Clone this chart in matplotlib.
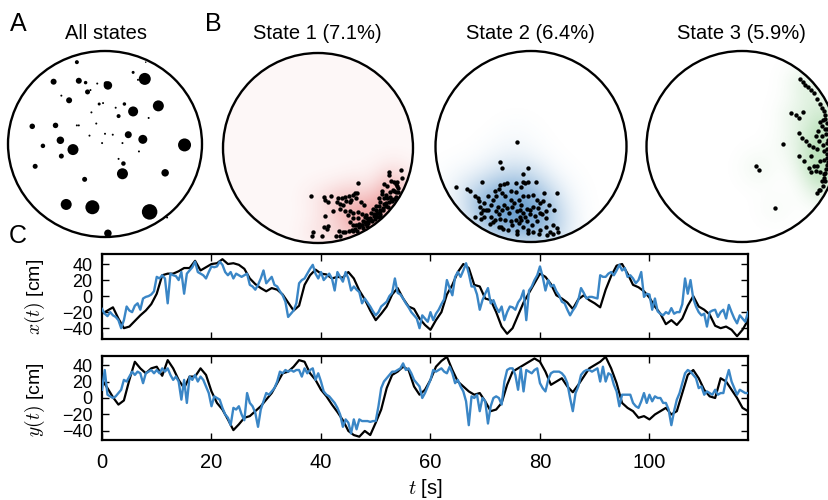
import numpy as np
import matplotlib
matplotlib.use("Agg")
import matplotlib.pyplot as plt
from matplotlib.patches import Circle
from matplotlib.colors import to_rgb

plt.rcParams['font.family'] = ['Liberation Sans', 'DejaVu Sans']
plt.rcParams['mathtext.fontset'] = 'cm'

# ---------------- data ----------------
# Panel A: place-field centres (arena units, radius 1) and field sizes (px)
all_x = [-0.29, 0.42, -0.53, -0.27, -0.20, -0.08, 0.03, 0.01, 0.29, 0.41, 0.34, -0.18, -0.15,
         -0.45, -0.37, -0.06, -0.02, 0.20, 0.11, 0.29, 0.55, -0.14, 0.14, 0.45, -0.75, -0.51,
         -0.29, -0.27, -0.09, -0.16, 0.00, 0.08, 0.24, -0.46, -0.64, -0.33, 0.39, -0.03, 0.18,
         0.82, 0.35, -0.45, 0.14, 0.19, -0.72, 0.18, 0.62, -0.21, -0.40, -0.13, 0.46, 0.64, 0.03]
all_y = [0.88, 0.88, 0.67, 0.68, 0.66, 0.65, 0.63, 0.65, 0.77, 0.70, 0.69, 0.56, 0.58,
         0.52, 0.47, 0.43, 0.44, 0.43, 0.39, 0.35, 0.41, 0.34, 0.30, 0.28, 0.19, 0.20,
         0.20, 0.20, 0.22, 0.09, 0.11, 0.10, 0.10, 0.04, -0.02, -0.06, 0.05, 0.01, 0.01,
         -0.01, -0.08, -0.13, -0.16, -0.21, -0.24, -0.32, -0.31, -0.38, -0.65, -0.68, -0.73, -0.79, -0.96]
all_size = [4, 1.5, 6, 6, 3.5, 2, 8.5, 4.5, 3, 12, 2, 5, 2,
            2, 6, 3, 2, 3.5, 2, 10, 11, 2, 4, 2, 5.5, 5.5,
            2, 2, 2, 2, 2, 2, 7, 7.5, 4.5, 11, 9, 2, 2,
            13, 2, 5, 2, 4.5, 5, 11, 7.5, 5, 11, 14, 15.5, 2, 7.5]

state1 = [(0.75, -0.25), (0.75, -0.28), (0.89, -0.24), (0.77, -0.35), (0.69, -0.38), (0.73, -0.40),
          (0.80, -0.36), (0.84, -0.39), (0.86, -0.37), (0.87, -0.42), (0.93, -0.33), (0.42, -0.37),
          (-0.07, -0.51), (0.06, -0.52), (0.14, -0.51), (0.21, -0.53), (0.25, -0.53), (0.28, -0.52),
          (0.33, -0.51), (0.37, -0.49), (0.39, -0.47), (0.41, -0.47), (0.07, -0.55), (0.11, -0.57),
          (0.20, -0.57), (0.23, -0.59), (0.26, -0.60), (0.30, -0.56), (0.34, -0.57), (0.35, -0.55),
          (0.40, -0.53), (0.45, -0.57), (0.48, -0.60), (0.67, -0.45), (0.67, -0.48), (0.72, -0.49),
          (0.76, -0.47), (0.80, -0.45), (0.83, -0.47), (0.86, -0.49), (0.89, -0.45), (0.91, -0.50),
          (0.64, -0.53), (0.69, -0.53), (0.74, -0.53), (0.78, -0.53), (0.81, -0.57), (0.85, -0.57),
          (0.88, -0.55), (0.65, -0.57), (0.61, -0.61), (0.65, -0.62), (0.71, -0.60), (0.74, -0.60),
          (0.78, -0.60), (0.83, -0.60), (0.58, -0.64), (0.62, -0.66), (0.67, -0.67), (0.72, -0.66),
          (0.76, -0.65), (0.79, -0.66), (0.56, -0.68), (0.60, -0.71), (0.65, -0.71), (0.69, -0.70),
          (0.73, -0.69), (0.51, -0.70), (0.16, -0.66), (0.23, -0.64), (0.28, -0.66), (0.34, -0.66),
          (0.37, -0.68), (0.42, -0.67), (0.46, -0.69), (0.49, -0.73), (0.07, -0.72), (0.32, -0.71),
          (0.37, -0.74), (0.42, -0.74), (0.53, -0.75), (0.56, -0.76), (0.61, -0.75), (0.65, -0.76),
          (0.69, -0.74), (0.48, -0.78), (0.51, -0.80), (0.55, -0.81), (0.59, -0.80), (0.34, -0.78),
          (0.37, -0.81), (0.41, -0.83), (0.44, -0.82), (0.48, -0.84), (0.06, -0.83), (0.11, -0.82),
          (0.09, -0.85), (-0.05, -0.88), (0.23, -0.90), (0.27, -0.92), (0.34, -0.92), (0.37, -0.91),
          (0.41, -0.89), (0.46, -0.88), (0.49, -0.85), (0.53, -0.85), (0.56, -0.83), (0.60, -0.81),
          (0.64, -0.80), (0.67, -0.77), (0.71, -0.78), (0.30, -0.93), (0.44, -0.93), (0.39, -0.93),
          (0.20, -0.97), (0.25, -0.98), (-0.07, -0.97), (0.04, -0.97), (0.51, -0.90), (0.55, -0.88)]

state2 = [(-0.15, 0.05), (-0.32, -0.16), (-0.30, -0.22), (-0.03, -0.23), (-0.08, -0.29), (-0.51, -0.37),
          (-0.80, -0.43), (-0.67, -0.45), (-0.64, -0.47), (-0.59, -0.52), (-0.55, -0.54), (-0.54, -0.57),
          (-0.53, -0.63), (-0.50, -0.66), (-0.52, -0.70), (-0.49, -0.74), (-0.61, -0.77), (-0.55, -0.79),
          (-0.42, -0.74), (-0.45, -0.66), (-0.42, -0.61), (-0.40, -0.56), (-0.37, -0.52), (-0.38, -0.47),
          (-0.33, -0.45), (-0.32, -0.40), (-0.28, -0.39), (-0.25, -0.38), (-0.30, -0.49), (-0.27, -0.52),
          (-0.21, -0.47), (-0.16, -0.48), (-0.10, -0.42), (-0.06, -0.38), (-0.08, -0.37), (-0.03, -0.37),
          (0.05, -0.37), (0.14, -0.49), (0.27, -0.49), (-0.21, -0.56), (-0.18, -0.59), (-0.13, -0.56),
          (-0.10, -0.61), (-0.08, -0.52), (-0.03, -0.52), (0.02, -0.51), (0.06, -0.56), (0.09, -0.59),
          (0.13, -0.57), (0.07, -0.64), (0.02, -0.63), (-0.01, -0.66), (-0.04, -0.65), (-0.08, -0.70),
          (-0.11, -0.66), (-0.15, -0.68), (-0.20, -0.63), (-0.25, -0.64), (-0.30, -0.66), (-0.33, -0.71),
          (-0.37, -0.68), (-0.38, -0.77), (-0.32, -0.76), (-0.27, -0.77), (-0.21, -0.78), (-0.16, -0.77),
          (-0.11, -0.74), (-0.06, -0.74), (-0.01, -0.71), (0.04, -0.73), (0.09, -0.70), (0.16, -0.68),
          (0.19, -0.61), (0.24, -0.66), (0.16, -0.75), (0.06, -0.78), (0.01, -0.82), (-0.03, -0.87),
          (0.02, -0.90), (0.09, -0.87), (0.16, -0.84), (0.23, -0.82), (0.28, -0.87), (-0.32, -0.85),
          (-0.35, -0.87), (-0.30, -0.89), (-0.25, -0.90), (-0.20, -0.82), (-0.15, -0.89), (-0.08, -0.84),
          (-0.15, -0.96), (-0.03, -0.93), (0.09, -0.94), (0.18, -0.97), (0.24, -0.97), (0.21, -0.92),
          (0.30, -0.94), (-0.40, -0.80), (-0.44, -0.84), (-0.47, -0.66), (-0.35, -0.63), (-0.28, -0.61),
          (-0.23, -0.70), (-0.13, -0.80), (-0.04, -0.78), (-0.10, -0.77), (-0.45, -0.52), (-0.16, -0.38),
          (-0.49, -0.59), (0.11, -0.71)]

state3 = [(0.63, 0.74), (0.66, 0.70), (0.68, 0.67), (0.72, 0.65), (0.75, 0.62), (0.79, 0.59),
          (0.82, 0.52), (0.85, 0.47), (0.88, 0.42), (0.90, 0.39), (0.51, 0.35), (0.57, 0.33),
          (0.60, 0.30), (0.64, 0.36), (0.82, 0.26), (0.86, 0.28), (0.90, 0.30), (0.84, 0.21),
          (0.88, 0.18), (0.91, 0.19), (0.80, 0.16), (0.77, 0.11), (0.84, 0.11), (0.89, 0.13),
          (0.60, 0.14), (0.63, 0.09), (0.67, 0.06), (0.70, 0.02), (0.74, 0.00), (0.81, 0.06),
          (0.85, 0.02), (0.90, 0.04), (0.43, 0.03), (0.60, -0.10), (0.65, -0.15), (0.70, -0.22),
          (0.75, -0.20), (0.79, -0.20), (0.82, -0.15), (0.86, -0.14), (0.90, -0.12), (0.77, -0.26),
          (0.82, -0.27), (0.88, -0.29), (0.91, -0.24), (0.72, -0.27), (0.15, -0.20), (0.18, -0.25),
          (0.90, -0.03), (0.79, -0.03), (0.86, -0.05), (0.89, -0.34), (0.91, -0.20), (0.72, -0.10),
          (0.91, 0.35), (0.92, 0.25), (0.91, 0.07), (0.91, -0.08), (0.92, -0.17), (0.90, -0.29),
          (0.91, -0.38), (0.89, -0.43), (0.86, -0.37), (0.84, -0.47), (0.82, -0.51), (0.86, -0.48),
          (0.35, -0.64)]

state_titles = ["State 1 (7.1%)", "State 2 (6.4%)", "State 3 (5.9%)"]

# Panel C: true position (1 s) and decoded position (0.5 s)
t_true = np.arange(0, 119, 1.0)
x_true = [-22, -18, -14, -28, -40, -38, -31, -24, -18, -10,
          3, 26, 28, 28, 31, 35, 35, 44, 32, 36,
          40, 41, 46, 40, 41, 39, 34, 22, 15, 10,
          6, 10, 8, 2, -8, -18, -12, 14, 26, 33,
          28, 27, 22, 24, 23, 30, 22, 7, -4, -18,
          -30, -22, -13, 2, 10, -3, -13, -16, -28, -36,
          -42, -30, -20, 2, 14, 30, 40, 35, 14, 12,
          -3, -5, -20, -38, -47, -40, -24, -8, 4, 16,
          28, 24, 15, 1, -3, -8, -16, -4, 1, -5,
          -9, -14, 8, 25, 38, 40, 28, 14, 11, 6,
          -2, -13, -22, -35, -30, -36, -28, -12, 0, -13,
          -17, -23, -37, -40, -38, -42, -50, -42, -30]
y_true = [22, 12, 1, -8, -3, 22, 44, 36, 30, 36,
          38, 27, 46, 36, 22, 12, 26, 26, 36, 28,
          8, -6, -14, -26, -39, -32, -24, -22, -16, -10,
          -2, 6, 18, 30, 32, 38, 46, 44, 30, 22,
          10, 2, -8, -17, -27, -40, -45, -47, -40, -45,
          -30, -14, 12, 28, 32, 38, 34, 14, 4, 10,
          22, 38, 45, 50, 34, 20, 14, 8, 4, 6,
          -4, -16, -14, -6, 16, 32, 36, 40, 44, 48,
          44, 32, 16, 20, 24, 14, 7, 16, 26, 36,
          40, 44, 50, 36, 18, -6, -12, -16, -24, -22,
          -26, -20, -16, -12, -20, -16, 6, 28, 34, 24,
          10, 2, 0, 24, 20, 10, 0, -12, -16]

t_dec = np.arange(0, 118.5, 0.5)
x_dec = [-16, -22, -25, -20, -24, -26, -30, -40, -30, -13, -18, -20, -12, -9, -17, -3, -1, 0, 2, 6,
         24, 22, 26, 22, -9, 28, 26, 25, 20, 30, 3, 28, 32, 36, 43, 30, 28, 26, 22, 30,
         37, 36, 37, 43, 39, 30, 26, 30, 22, 28, 26, 24, 26, 28, 14, 12, 8, 14, 22, 32,
         16, 20, 24, 14, 12, 6, 1, -7, -26, -22, -18, -9, 16, 20, 22, 28, 34, 39, 28, 22,
         30, 20, 24, 28, 22, 7, 30, 24, 18, 30, 22, 7, 12, 8, 5, -9, -3, -8, -13, -19,
         -24, -20, -13, -10, -7, 0, 4, 22, 4, 2, -3, -9, -14, -20, -24, -28, -40, -24, -28, -32,
         -20, -30, -22, -17, -10, -4, 20, 10, 1, 24, 30, 24, 32, 41, 28, 12, 12, 2, -17, -5,
         3, 10, -9, -5, -14, -20, -13, -30, -20, -13, -14, -17, -8, -3, 7, -30, 7, 12, 20, 26,
         37, 24, 7, 20, 12, 14, 6, 1, -7, -9, -17, -24, -18, -13, -5, 10, 4, -3, -1, -1,
         -2, -3, 26, 24, 24, 28, 30, 26, 32, 39, 32, 35, 24, 26, 22, 16, 20, 30, -1, 3,
         2, -17, -3, -19, -22, -24, -20, -22, -15, -22, -20, -20, -10, 22, 3, 20, -3, -13, -20, -24,
         -22, -38, -20, -18, -17, -26, -20, -17, -28, -11, -20, -28, -34, -24, -28, -32, -20]
y_dec = [10, 34, 4, 2, 0, 2, 6, 10, 22, 20, 26, 32, 28, 32, 30, 18, 30, 32, 34, 30,
         34, 30, 36, 32, 36, 28, 22, 26, 20, -2, 22, -6, 26, 22, 28, 20, 26, 22, 14, 6,
         -10, 2, 0, -2, -12, -20, -24, -33, -12, -14, -10, -20, -27, 6, -6, -10, -18, -35, -14, -4,
         6, 4, 8, 12, 20, 32, 30, 34, 32, 34, 32, 34, 34, 26, 36, 30, 34, 36, 22, 30,
         20, 8, 4, 2, -2, -6, -12, -20, -35, -26, -30, -43, -26, -38, -26, -28, -28, -28, -29, -28,
         -28, -10, 12, 20, 24, 28, 32, 32, 34, 36, 42, 34, 36, 30, 22, 18, 14, 0, 6, 14,
         22, 34, 32, 34, 36, 32, 30, 38, 30, 18, 22, 14, 8, -4, -33, 2, 0, 4, -16, 0,
         -4, -31, -10, 0, 2, 0, -8, 20, 34, 36, 36, 28, 10, 36, 8, 34, 32, 30, 34, 36,
         18, 12, 8, 22, 30, 32, 32, 32, 30, 26, 18, 0, -16, 6, 14, 28, 32, 34, 34, 32,
         34, 36, 20, 38, 20, 30, 28, 16, 8, -10, 4, 4, 4, 4, -6, -10, -12, -4, 6, -6,
         4, -4, 2, 0, 0, -6, -6, -14, -33, -16, -2, 6, 18, 30, 34, 32, 28, 24, 12, 14,
         4, 8, 6, 4, 10, 4, 6, 6, 22, 34, 20, 12, 4, 10, 8, 6, 6]

# ---------------- figure ----------------
W, H = 829, 500
fig = plt.figure(figsize=(W / 100, H / 100), dpi=100)
fig.patch.set_facecolor('white')


def px_axes(l, t, r, b):
    return fig.add_axes([l / W, 1 - b / H, (r - l) / W, (b - t) / H])


def arena(ax):
    ax.set_xlim(-1, 1)
    ax.set_ylim(-1, 1)
    ax.axis('off')
    ax.add_patch(Circle((0, 0), 1, fill=False, lw=1.7, ec='black', clip_on=False, zorder=5))


def inside(pts, knee=0.88, rmax=0.965):
    """Softly pull points that fall on/over the rim back inside the arena."""
    p = np.array(pts, dtype=float)
    r = np.hypot(p[:, 0], p[:, 1])
    rn = np.where(r > knee, knee + (r - knee) * 0.55, r)
    rn = np.minimum(rn, rmax)
    f = rn / np.maximum(r, 1e-9)
    return p[:, 0] * f, p[:, 1] * f


def density(xs, ys, bw):
    g = np.linspace(-1, 1, 241)
    X, Y = np.meshgrid(g, g)
    D = np.zeros_like(X)
    for x, y in zip(xs, ys):
        D += np.exp(-((X - x) ** 2 + (Y - y) ** 2) / (2 * bw ** 2))
    return D / D.max()


# Panel A
axA = px_axes(8, 51, 202, 237)
arena(axA)
axA.scatter(all_x, all_y, s=(np.array(all_size) * 0.72) ** 2, color='black', lw=0, zorder=4)

# Panel B
boxes = [(223, 51, 413, 245), (433, 51, 629, 242), (645, 51, 839, 242)]
colors = ['#e04848', '#3a80c0', '#5cb85c']
alphas = [(0.04, 0.45, 0.13), (0.0, 0.75, 0.17), (0.0, 0.42, 0.13)]
for pts, box, col, (a0, a1, bw) in zip([state1, state2, state3], boxes, colors, alphas):
    ax = px_axes(*box)
    arena(ax)
    xs, ys = inside(pts)
    D = density(xs, ys, bw)
    rgba = np.zeros(D.shape + (4,))
    rgba[..., :3] = to_rgb(col)
    rgba[..., 3] = np.clip(a0 + a1 * D ** 0.9, 0, 1)
    im = ax.imshow(rgba, origin='lower', extent=(-1, 1, -1, 1), interpolation='bilinear', zorder=1)
    im.set_clip_path(Circle((0, 0), 1, transform=ax.transData))
    ax.scatter(xs, ys, s=10, color='black', lw=0, zorder=4)

title_pos = [(106, 33), (317, 33), (530, 33), (741, 33)]
for (tx, ty), txt in zip(title_pos, ["All states"] + state_titles):
    fig.text(tx / W, 1 - ty / H, txt, ha='center', va='center', fontsize=14.5)

for (lx, ly), lab in zip([(18, 24), (213, 24), (18, 236)], ['A', 'B', 'C']):
    fig.text(lx / W, 1 - ly / H, lab, ha='center', va='center', fontsize=18)

# Panel C
ax1 = px_axes(102, 254, 748, 339)
ax2 = px_axes(102, 356, 748, 440)
for ax, true, dec, ylim in [(ax1, x_true, x_dec, (-53.5, 52.5)), (ax2, y_true, y_dec, (-51, 51))]:
    ax.plot(t_true, true, color='black', lw=1.6, zorder=2)
    ax.plot(t_dec, dec, color='#3a86c6', lw=1.7, zorder=3)
    ax.set_xlim(0, 118)
    ax.set_ylim(*ylim)
    ax.set_yticks([-40, -20, 0, 20, 40])
    ax.set_xticks([0, 20, 40, 60, 80, 100])
    ax.tick_params(direction='in', top=True, right=True, length=5, width=1.0, labelsize=13, pad=7)
    ax.tick_params(axis='x', labelsize=14.5, pad=9)
    for sp in ax.spines.values():
        sp.set_linewidth(1.6)
ax1.set_xticklabels([])

fig.text(35 / W, 1 - 297 / H, r'$x(t)$ [cm]', rotation=90, ha='center', va='center', fontsize=14)
fig.text(35 / W, 1 - 400 / H, r'$y(t)$ [cm]', rotation=90, ha='center', va='center', fontsize=14)
fig.text(425 / W, 1 - 489 / H, r'$t$ [s]', ha='center', va='center', fontsize=14.5)

fig.savefig('out.png', dpi=100, facecolor='white')
